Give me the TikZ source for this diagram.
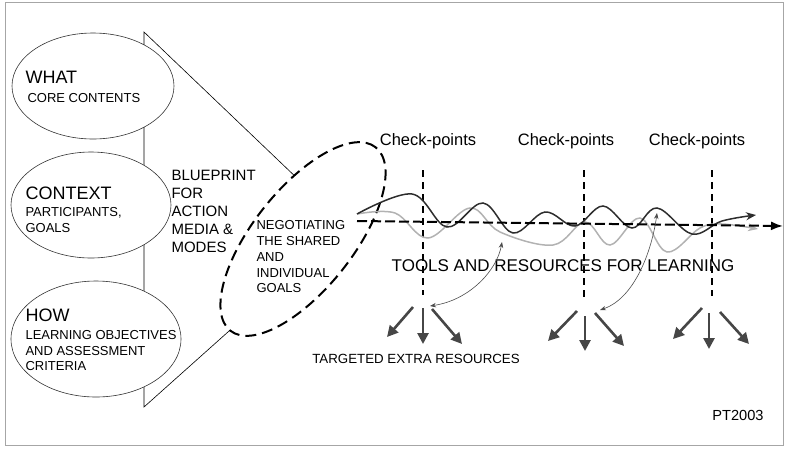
\documentclass[tikz,border=0pt]{standalone}
\usepackage{fontspec}
\setmainfont{Liberation Sans}
\usetikzlibrary{shapes.geometric,arrows.meta}

\begin{document}
\begin{tikzpicture}[x=1pt,y=-1pt,
    oval/.style={draw=black!80, line width=0.6pt, fill=white, ellipse, inner sep=0pt},
    head/.style={anchor=west, font=\fontsize{18}{20}\selectfont},
    sub/.style={anchor=west, align=left, font=\fontsize{13}{15.5}\selectfont},
    checkline/.style={line width=1.5pt, dash pattern=on 7pt off 5pt},
    wave/.style={line width=1.5pt, -{Stealth[length=10pt,width=8pt]}},
    fan/.style={line width=2.6pt, gray!55!black, -{Triangle[length=11pt,width=11pt]}},
    link/.style={gray!60!black, line width=0.6pt, {Stealth[length=6pt]}-{Stealth[length=6pt]}}]

\useasboundingbox (0,0) rectangle (786,448);
\draw[gray!70, line width=0.8pt] (5,2) rectangle (783,445);

% funnel behind the three ovals
\coordinate (ftop) at (144,32);
\coordinate (fbot) at (144,407);
\draw[line width=0.6pt] (300,181) -- (ftop) -- (fbot) -- (238,323);

\node[oval, minimum width=162pt, minimum height=106pt] (what) at (93,86) {};
\node[oval, minimum width=160pt, minimum height=106pt] (context) at (91,205) {};
\node[oval, minimum width=170pt, minimum height=116pt] (how) at (96,339) {};

\node[head] (whatlbl) at (22,77) {WHAT};
\node[sub] (whattxt) at (24,98) {CORE CONTENTS};
\node[head] (contextlbl) at (22,193) {CONTEXT};
\node[sub] (contexttxt) at (22,220) {PARTICIPANTS,\\GOALS};
\node[head] (howlbl) at (22,315) {HOW};
\node[sub] (howtxt) at (22,351) {LEARNING OBJECTIVES\\AND ASSESSMENT\\CRITERIA};

\node[anchor=west, align=left, font=\fontsize{15}{18}\selectfont] (blueprint) at (168,211)
    {BLUEPRINT\\FOR\\ACTION\\MEDIA \&\\MODES};

% negotiation oval
\node[draw, ellipse, fill=white, line width=2pt, dash pattern=on 11pt off 6pt, rotate=51.6,
    minimum width=234pt, minimum height=100pt] (goals) at (303,239) {};
\node[sub, font=\fontsize{13}{15.75}\selectfont] (goalstxt) at (253,257)
    {NEGOTIATING\\THE SHARED\\AND\\INDIVIDUAL\\GOALS};

% check-points
\node[font=\fontsize{16.5}{18}\selectfont] (cp1) at (428,141) {Check-points};
\node[font=\fontsize{16.5}{18}\selectfont] (cp2) at (566,141) {Check-points};
\node[font=\fontsize{16.5}{18}\selectfont] (cp3) at (697,141) {Check-points};
\coordinate (c1a) at (423,170); \coordinate (c1b) at (423,295);
\coordinate (c2a) at (584,170); \coordinate (c2b) at (584,298);
\coordinate (c3a) at (712,170); \coordinate (c3b) at (712,296);
\draw[checkline] (c1a) -- (c1b);
\draw[checkline] (c2a) -- (c2b);
\draw[checkline] (c3a) -- (c3b);

\node[font=\fontsize{17}{19}\selectfont] (tools) at (563,266) {TOOLS AND RESOURCES FOR LEARNING};

% waves
\draw[wave, gray!60] plot[smooth, tension=0.6] coordinates {(357,214) (395,213) (428,238) (470,208)
    (500,232) (553,245) (585,222) (610,245) (640,218) (667,252) (700,228) (722,224) (758,229)};
\draw[wave, gray!35!black] plot[smooth, tension=0.6] coordinates {(357,214) (412,194) (447,227) (483,203)
    (513,233) (545,212) (575,226) (603,206) (632,228) (657,208) (692,234) (722,221) (756,215)};

% main line
\coordinate (axs) at (357,221);
\coordinate (axe) at (783,226);
\draw[line width=2pt, dash pattern=on 10pt off 4pt, -{Latex[length=12pt,width=9pt]}] (axs) -- (axe);

% links to the extra resources
\coordinate (l1a) at (430,306); \coordinate (l1b) at (502,242);
\coordinate (l2a) at (600,310); \coordinate (l2b) at (657,213);
\draw[link] (l1a) .. controls (470,300) and (497,270) .. (l1b);
\draw[link] (l2a) .. controls (635,298) and (652,250) .. (l2b);

% fans of arrows
\draw[fan] (413,307) -- (387,337);
\draw[fan] (423,308) -- (423,344);
\draw[fan] (432,309) -- (462,344);
\draw[fan] (577,311) -- (548,341);
\draw[fan] (585,316) -- (585,351);
\draw[fan] (595,313) -- (624,346);
\draw[fan] (702,308) -- (673,339);
\draw[fan] (709,313) -- (709,349);
\draw[fan] (720,312) -- (749,344);

\node[font=\fontsize{13.3}{15}\selectfont] (extra) at (416,359) {TARGETED EXTRA RESOURCES};
\node[font=\fontsize{14.6}{16}\selectfont] (pt) at (738,415) {PT2003};
\end{tikzpicture}
\end{document}
